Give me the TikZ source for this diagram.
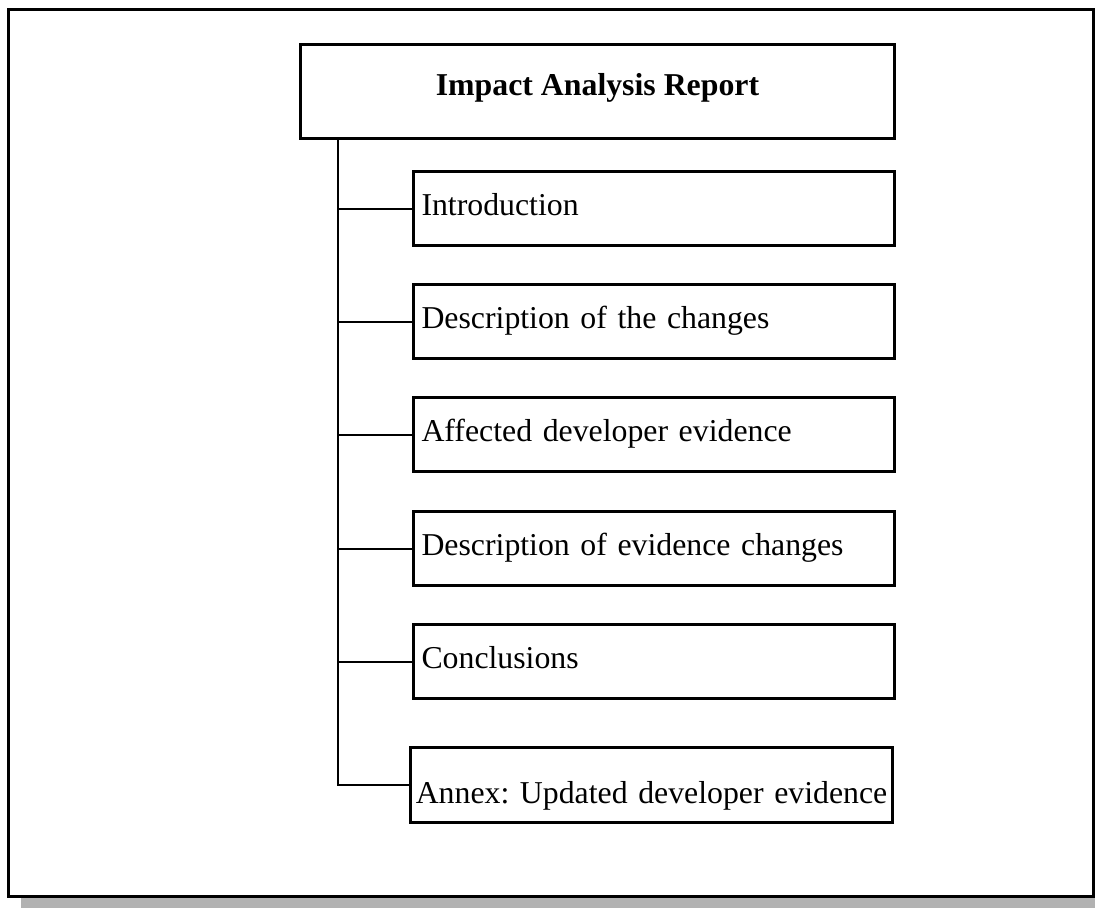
\documentclass[tikz,border=0pt]{standalone}
\usepackage{fontspec}
\setmainfont{Liberation Serif}
\begin{document}
\begin{tikzpicture}[x=0.5pt,y=-0.5pt,
  secbox/.style={draw, line width=1.5pt, anchor=north west, minimum height=37pt,
    text width=232.5pt, inner xsep=4pt, inner ysep=1pt, align=left,
    text height=11.5pt, text depth=4.5pt,
    font=\fontsize{15.9}{19}\selectfont\frenchspacing},
  headbox/.style={draw, line width=1.5pt, anchor=north west, minimum width=297pt,
    minimum height=47pt, inner sep=1pt, text height=11pt, text depth=7pt,
    font=\fontsize{15.9}{19}\selectfont\bfseries},
  link/.style={line width=1pt}]
\useasboundingbox (0,0) rectangle (1095,907);
%frame with shadow
\fill [black!30](21,30) rectangle (1110,915);
\draw [fill=white, line width=1.5pt](8,9) rectangle (1093,896);

\node [headbox] (head) at (299,43) {Impact Analysis Report};
\node [secbox] (intro)    at (412,170) {Introduction};
\node [secbox] (changes)  at (412,283) {Description of the changes};
\node [secbox] (affected) at (412,396) {Affected developer evidence};
\node [secbox] (evidence) at (412,510) {Description of evidence changes};
\node [secbox] (concl)    at (412,623) {Conclusions};
\node [secbox, minimum height=37.5pt, text width=238.5pt, inner xsep=1.25pt,
       align=center, text height=20pt, text depth=2pt] (annex) at (409,746)
       {Annex: Updated developer evidence};

\coordinate (trunk) at ([xshift=19.5pt]head.south west);
\draw [link](trunk) |- (annex.west);
\draw [link](trunk |- intro.west) -- (intro.west);
\draw [link](trunk |- changes.west) -- (changes.west);
\draw [link](trunk |- affected.west) -- (affected.west);
\draw [link](trunk |- evidence.west) -- (evidence.west);
\draw [link](trunk |- concl.west) -- (concl.west);
\end{tikzpicture}
\end{document}
